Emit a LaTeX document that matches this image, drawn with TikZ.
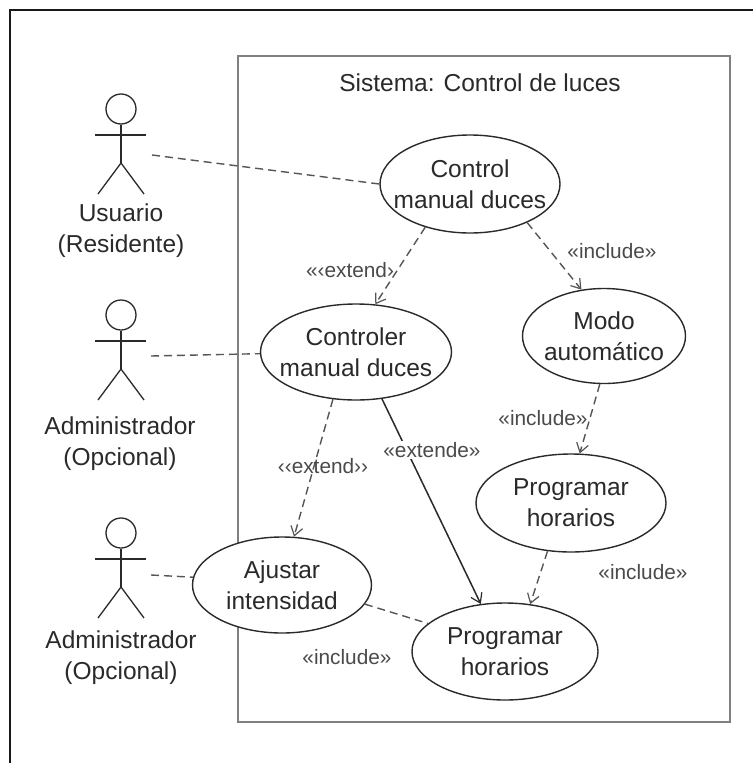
\documentclass[tikz,border=0pt]{standalone}
\usepackage{fontspec}
\setmainfont{Liberation Sans}
\usetikzlibrary{arrows.meta,shapes.geometric}
\definecolor{ink}{HTML}{2A2A2A}
\newcommand{\zw}[1]{\makebox[0pt][c]{#1}}
\tikzset{
  usecase/.style={draw=ink,fill=white,line width=1.4pt,ellipse,inner sep=0pt,align=center,font=\fontsize{24.5}{31}\selectfont,text=ink},
  lbl/.style={font=\fontsize{24.5}{31}\selectfont,text=ink,align=center,inner sep=0pt},
  stereo/.style={font=\fontsize{20.8}{22}\selectfont,text=ink!85,inner sep=0pt},
  assoc/.style={draw=ink!80,line width=1.4pt,dash pattern=on 8pt off 5pt},
  dep/.style={assoc,-{Straight Barb[length=9pt,width=12pt,line width=1.2pt]}},
  ext/.style={draw=ink,line width=1.5pt,-{Straight Barb[length=9pt,width=12pt,line width=1.2pt]}},
  limb/.style={draw=ink,line width=1.3pt},
}
\newcommand{\actor}[3]{%
  \node[circle,draw=ink,line width=1.3pt,minimum size=30pt,inner sep=0pt] (#3h) at (#1,#2) {};
  \coordinate (#3w) at (#1,#2+54);
  \coordinate (#3a) at (#1-26,#2+26);
  \coordinate (#3b) at (#1+25,#2+26);
  \coordinate (#3l) at (#1-23,#2+85);
  \coordinate (#3r) at (#1+23,#2+85);
  \draw[limb] (#3h.south) -- (#3w);
  \draw[limb] (#3a) -- (#3b);
  \draw[limb] (#3l) -- (#3w) -- (#3r);
}
\begin{document}
\begin{tikzpicture}[x=1pt,y=-1pt]
\useasboundingbox (0,0) rectangle (753,763);
\fill[white] (0,0) rectangle (753,763);
\draw[black!90,line width=2pt] (9.5,763) -- (9.5,9.5) -- (753,9.5);
\node[draw=black!50,line width=2pt,minimum width=492pt,minimum height=666pt,inner sep=0pt,anchor=north west] (sys) at (237,55) {};
\node[lbl] (title) at (480,83) {Sistema: Control de luces};

\actor{121}{109}{A}
\actor{121}{315}{B}
\actor{121}{533}{C}
\node[lbl] (la) at (121,231) {Usuario\\(Residente)};
\node[lbl] (lb) at (120,444) {Administrador\\(Opcional)};
\node[lbl] (lc) at (121,658) {Administrador\\(Opcional)};
\coordinate (fa) at (152,155);
\coordinate (fb) at (151,356);
\coordinate (fc) at (151,575);

\node[usecase,minimum width=180pt,minimum height=98pt] (uc1) at (470,184) {\zw{Control}\\\zw{manual duces}};
\node[usecase,minimum width=191pt,minimum height=96pt] (uc2) at (356,352) {\zw{Controler}\\\zw{manual duces}};
\node[usecase,minimum width=163pt,minimum height=95pt] (uc3) at (604,336) {\zw{Modo}\\\zw{automático}};
\node[usecase,minimum width=190pt,minimum height=98pt] (uc4) at (571,503) {\zw{Programar}\\\zw{horarios}};
\node[usecase,minimum width=179pt,minimum height=96pt] (uc5) at (282,585) {\zw{Ajustar}\\\zw{intensidad}};
\node[usecase,minimum width=186pt,minimum height=97pt] (uc6) at (505,651.5) {\zw{Programar}\\\zw{horarios}};

\draw[assoc] (fa) -- (uc1.180);
\draw[assoc] (fb) -- (uc2.181);
\draw[assoc] (fc) -- (uc5.175);
\draw[dep] (uc1.224) -- (uc2.68);
\draw[dep] (uc1.326) -- (uc3.116);
\draw[dep] (uc3.265) -- (uc4.80);
\draw[dep] (uc2.244) -- (uc5.76);
\draw[ext] (uc2.299) -- (uc6.117);
\draw[dep] (uc4.244) -- (uc6.62);
\draw[assoc] (uc5.347) -- (uc6.160);

\node[stereo] (s1) at (350,270) {«‹extend›};
\node[stereo] (s2) at (612,251) {«include»};
\node[stereo] (s3) at (543,418) {«include»};
\node[stereo] (s4) at (323,466) {‹‹extend››};
\node[stereo,fill=white,inner ysep=1pt] (s5) at (432,450) {«extende»};
\node[stereo] (s6) at (643,572) {«include»};
\node[stereo] (s7) at (347,657) {«include»};
\end{tikzpicture}
\end{document}
